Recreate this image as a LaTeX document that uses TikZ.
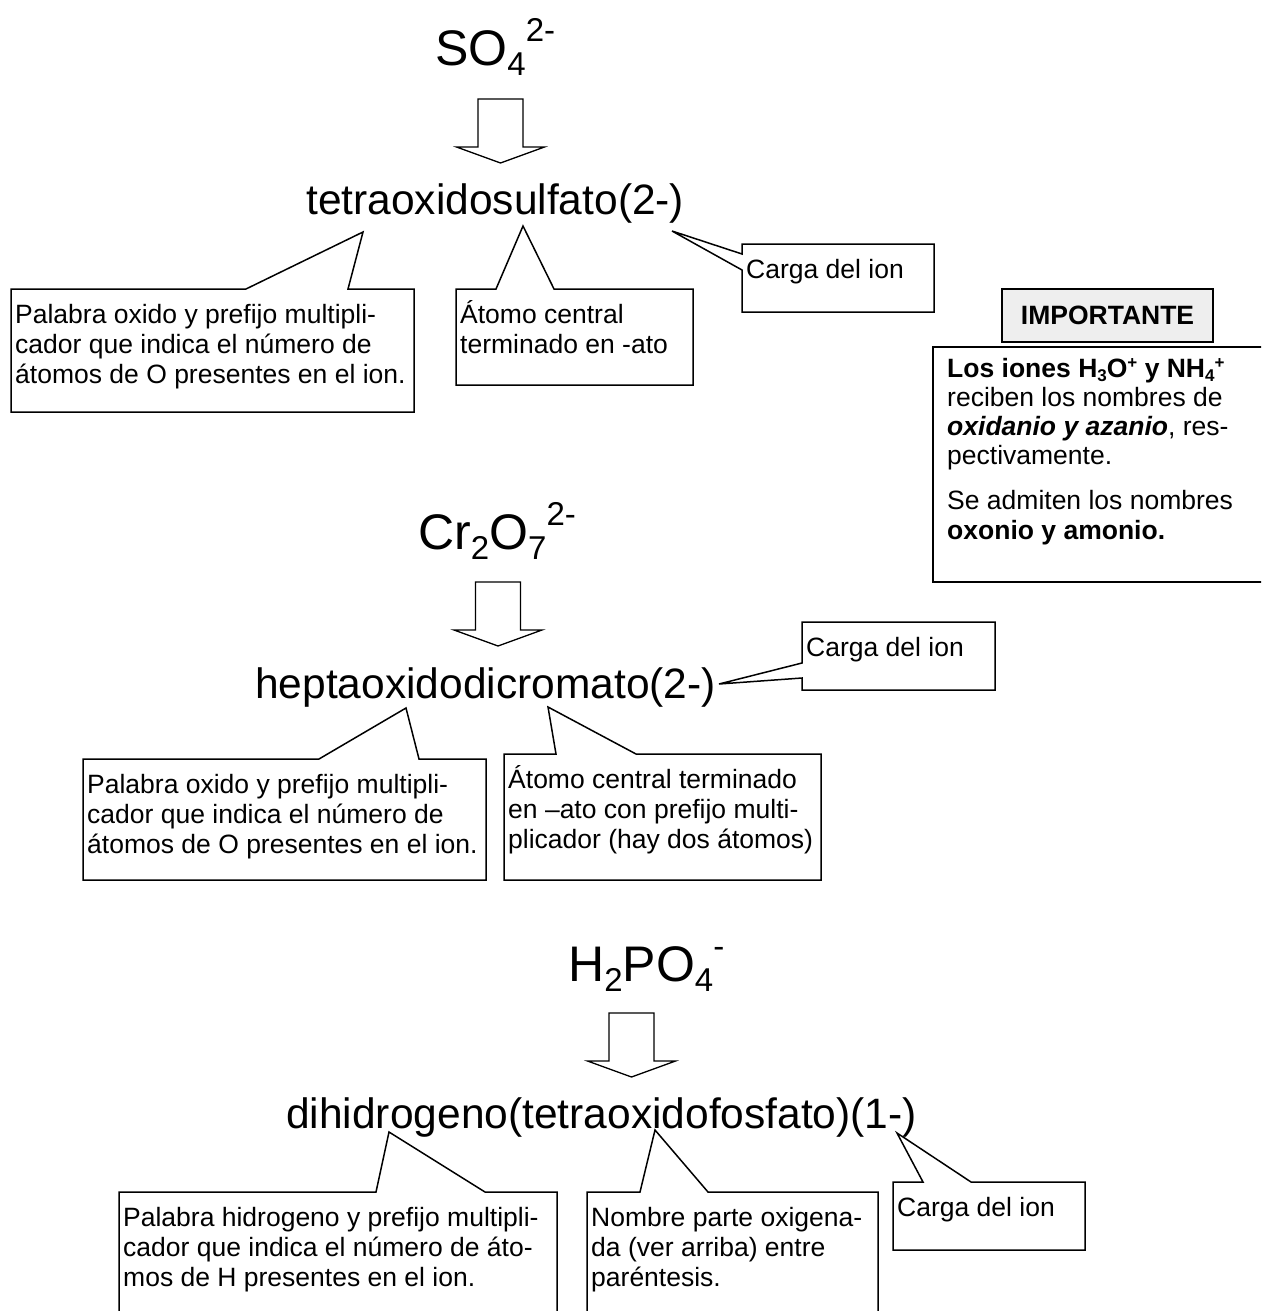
\documentclass[tikz,border=0pt]{standalone}
\usepackage{fontspec}
\setmainfont{Liberation Sans}
\definecolor{titlegray}{HTML}{EEEEEE}
\newcommand{\chsub}[1]{\raisebox{-10pt}{\fontsize{33}{36}\selectfont #1}}
\newcommand{\chsup}[1]{\raisebox{24pt}{\fontsize{33}{36}\selectfont #1}}
\newcommand{\tsub}[1]{\raisebox{-4pt}{\fontsize{17}{20}\selectfont #1}}
\newcommand{\tsup}[1]{\raisebox{9pt}{\fontsize{17}{20}\selectfont #1}}
\newcommand{\blockarrow}[1]{\draw[blockarr, shift={(#1)}] (-22.5,0) -- (22.5,0) -- (22.5,48) -- (44,48) -- (0,64) -- (-44,48) -- (-22.5,48) -- cycle;}

\begin{document}
\begin{tikzpicture}[x=1pt, y=-1pt,
    note/.style={font=\fontsize{26.5}{30}\selectfont, align=left, anchor=base west, inner sep=0pt},
    ionname/.style={font=\fontsize{42.5}{50}\selectfont, anchor=base west, inner sep=0pt},
    formula/.style={font=\fontsize{50}{60}\selectfont, anchor=base west, inner sep=0pt},
    wedge/.style={draw, line width=1.5pt, fill=white},
    blockarr/.style={draw, line width=1.3pt, fill=white},
    titlebox/.style={draw, line width=1.5pt, fill=titlegray, inner sep=0pt,
                     font=\fontsize{26.5}{30}\selectfont\bfseries}]
	\clip (0,0) rectangle (1261,1311);

	% SO4 (note nodes sit on the baseline of their last line)
	\node[formula] (so4) at (435,66) {SO\chsub{4}\chsup{2-}};
	\coordinate (arr1) at (500.5,99);
	\blockarrow{arr1}
	\coordinate (tipA1) at (363,232);
	\coordinate (tipA2) at (523,226);
	\coordinate (tipA3) at (672,231);
	\draw[wedge] (11,289) -- (246,289) -- (tipA1) -- (348,289) -- (414,289) -- (414,412) -- (11,412) -- cycle;
	\draw[wedge] (456,289) -- (496,289) -- (tipA2) -- (554,289) -- (693,289) -- (693,385) -- (456,385) -- cycle;
	\draw[wedge] (742,244) -- (934,244) -- (934,312) -- (742,312) -- (742,270) -- (tipA3) -- (742,254) -- cycle;
	\node[ionname] (sulfato) at (306,214) {tetraoxidosulfato(2-)};
	\node[note] (noteA1) at (15,383) {Palabra oxido y prefijo multipli-\\cador que indica el número de\\átomos de O presentes en el ion.};
	\node[note] (noteA2) at (460,353) {Átomo central\\terminado en -ato};
	\node[note] (noteA3) at (746,278) {Carga del ion};

	% IMPORTANTE
	\node[titlebox, minimum width=211, minimum height=53] (imp) at (1107.5,315.5) {IMPORTANTE};
	\draw[wedge] (933,347) rectangle (1275,582);
	\node[note, font=\fontsize{26.5}{29.2}\selectfont] (info) at (947,539) {\textbf{Los iones H\tsub{3}O\tsup{+} y NH\tsub{4}\tsup{+}}\\reciben los nombres de\\\textbf{\textit{oxidanio y azanio}}, res-\\pectivamente.\\[16pt]Se admiten los nombres\\\textbf{oxonio y amonio.}};

	% Cr2O7
	\node[formula] (cr2o7) at (418,549) {Cr\chsub{2}O\chsub{7}\chsup{2-}};
	\coordinate (arr2) at (498,582);
	\blockarrow{arr2}
	\coordinate (tipB1) at (406,708);
	\coordinate (tipB2) at (548,707);
	\coordinate (tipB3) at (719,684);
	\draw[wedge] (83,759) -- (319,759) -- (tipB1) -- (419,759) -- (486,759) -- (486,880) -- (83,880) -- cycle;
	\draw[wedge] (504,754) -- (556,754) -- (tipB2) -- (636,754) -- (821,754) -- (821,880) -- (504,880) -- cycle;
	\draw[wedge] (802,622) -- (995,622) -- (995,690) -- (802,690) -- (802,678) -- (tipB3) -- (802,663) -- cycle;
	\node[ionname] (cromato) at (255,698) {heptaoxidodicromato(2-)};
	\node[note] (noteB1) at (87,853) {Palabra oxido y prefijo multipli-\\cador que indica el número de\\átomos de O presentes en el ion.};
	\node[note] (noteB2) at (508,848) {Átomo central terminado\\en –ato con prefijo multi-\\plicador (hay dos átomos)};
	\node[note] (noteB3) at (806,656) {Carga del ion};

	% H2PO4
	\node[formula] (h2po4) at (568,981) {H\chsub{2}PO\chsub{4}\chsup{-}};
	\coordinate (arr3) at (631.5,1013);
	\blockarrow{arr3}
	\coordinate (tipC1) at (389,1132);
	\coordinate (tipC2) at (655,1130);
	\coordinate (tipC3) at (897,1133);
	\draw[wedge] (119,1192) -- (376,1192) -- (tipC1) -- (485,1192) -- (557,1192) -- (557,1330) -- (119,1330) -- cycle;
	\draw[wedge] (587,1192) -- (640,1192) -- (tipC2) -- (708,1192) -- (878,1192) -- (878,1330) -- (587,1330) -- cycle;
	\draw[wedge] (893,1182) -- (923,1182) -- (tipC3) -- (971,1182) -- (1085,1182) -- (1085,1250) -- (893,1250) -- cycle;
	\node[ionname] (fosfato) at (286,1128) {dihidrogeno(tetraoxidofosfato)(1-)};
	\node[note] (noteC1) at (123,1286) {Palabra hidrogeno y prefijo multipli-\\cador que indica el número de áto-\\mos de H presentes en el ion.};
	\node[note] (noteC2) at (591,1286) {Nombre parte oxigena-\\da (ver arriba) entre\\paréntesis.};
	\node[note] (noteC3) at (897,1216) {Carga del ion};
\end{tikzpicture}
\end{document}
